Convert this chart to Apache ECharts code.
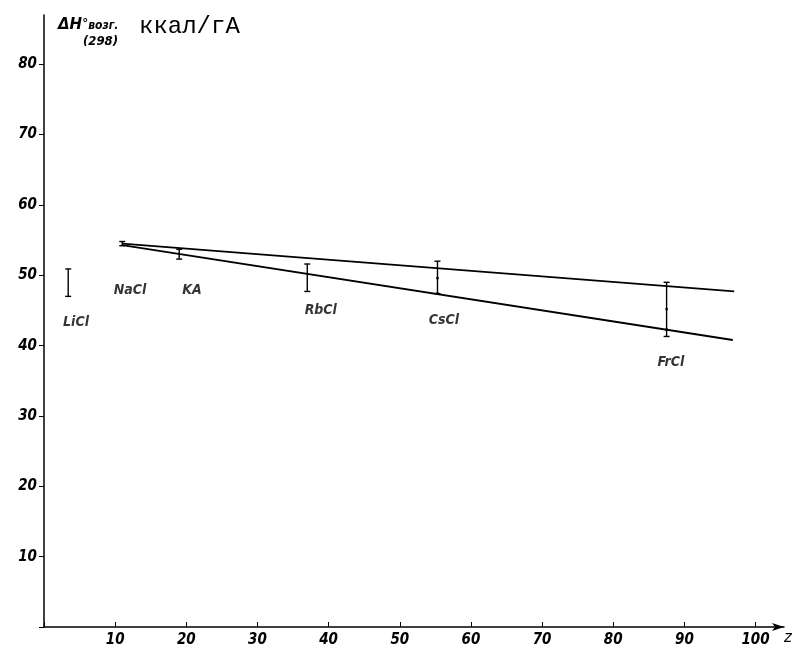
<!DOCTYPE html>
<html><head><meta charset="utf-8">
<script src="https://cdn.jsdelivr.net/npm/echarts@6/dist/echarts.min.js"></script>
<style>html,body{margin:0;padding:0;background:#fff}#c{width:796px;height:653px}</style>
</head><body><div id="c"></div>
<script>
// z values (atomic number) and sublimation enthalpy ranges, kcal/g-atom
const salts = ['LiCl', 'NaCl', 'KA', 'RbCl', 'CsCl', 'FrCl'];
const errZ    = [3.4, 11, 19, 37, 55.3, 87.5];
const errLow  = [47.0, 54.2, 52.3, 47.7, 47.4, 41.3];
const errHigh = [50.9, 54.8, 53.7, 51.6, 52.0, 49.0];
const upperLine = [[11, 54.5], [97, 47.7]];
const lowerLine = [[11, 54.3], [96.8, 40.8]];
const dotPoints = [[55.3, 47.4], [87.5, 45.2], [87.5, 42.3], [55.3, 49.6]];
const labelPos = [[4.5, 43.3], [12.1, 47.9], [20.8, 47.9], [38.9, 45.0], [56.2, 43.6], [88.1, 37.6]];
const xTicks = [0, 10, 20, 30, 40, 50, 60, 70, 80, 90, 100];
const yTicks = [0, 10, 20, 30, 40, 50, 60, 70, 80];

const tickFont = {color: '#000', fontFamily: 'DejaVu Sans Condensed, DejaVu Sans', fontStyle: 'italic', fontWeight: 'bold', fontSize: 15};

const chart = echarts.init(document.getElementById('c'));
chart.setOption({
  backgroundColor: '#fff',
  animation: false,
  grid: {left: 44, right: 12, top: 15, bottom: 26, containLabel: false},
  xAxis: {
    type: 'value', min: 0, max: 104, interval: 10,
    axisLine: {show: true, onZero: false, lineStyle: {color: '#000', width: 1.5}, symbol: ['none', 'arrow'], symbolSize: [6, 12]},
    axisTick: {show: true, inside: true, length: 5, lineStyle: {color: '#000'}},
    splitLine: {show: false},
    axisLabel: Object.assign({margin: 6, showMaxLabel: false,
      formatter: v => (xTicks.indexOf(v) >= 0 && v !== 0) ? String(v) : ''}, tickFont)
  },
  yAxis: {
    type: 'value', min: 0, max: 87, interval: 10,
    axisLine: {show: true, onZero: false, lineStyle: {color: '#000', width: 1.5}},
    axisTick: {show: true, length: 5, lineStyle: {color: '#000'}},
    splitLine: {show: false},
    axisLabel: Object.assign({margin: 7, showMaxLabel: false,
      formatter: v => (yTicks.indexOf(v) >= 0 && v !== 0) ? String(v) : ''}, tickFont)
  },
  series: [
    {type: 'line', data: upperLine, symbol: 'none', lineStyle: {color: '#000', width: 1.8}},
    {type: 'line', data: lowerLine, symbol: 'none', lineStyle: {color: '#000', width: 1.8}},
    {
      type: 'custom',
      data: errZ.map((z, i) => [z, errLow[i], errHigh[i]]),
      renderItem: function (params, api) {
        const lo = api.coord([api.value(0), api.value(1)]);
        const hi = api.coord([api.value(0), api.value(2)]);
        const w = 3;
        return {type: 'group', children: [
          {type: 'line', shape: {x1: lo[0], y1: lo[1], x2: hi[0], y2: hi[1]}, style: {stroke: '#000', lineWidth: 1.4}},
          {type: 'line', shape: {x1: lo[0] - w, y1: lo[1], x2: lo[0] + w, y2: lo[1]}, style: {stroke: '#000', lineWidth: 1.4}},
          {type: 'line', shape: {x1: hi[0] - w, y1: hi[1], x2: hi[0] + w, y2: hi[1]}, style: {stroke: '#000', lineWidth: 1.4}}
        ]};
      }
    },
    {type: 'scatter', data: dotPoints, symbolSize: 3, itemStyle: {color: '#000'}},
    {
      type: 'scatter', symbolSize: 0,
      data: labelPos.map((p, i) => ({value: p, name: salts[i]})),
      label: {show: true, position: 'inside', formatter: p => p.name, color: '#000',
        fontFamily: 'DejaVu Sans Condensed, DejaVu Sans', fontStyle: 'italic', fontWeight: 'bold', fontSize: 14}
    }
  ],
  graphic: [
    {type: 'text', left: 58, top: 18, style: {
      text: '{a|ΔH}{s|°}{b|возг.}',
      rich: {
        a: {fontFamily: 'DejaVu Sans', fontStyle: 'italic', fontWeight: 'bold', fontSize: 15, fill: '#000'},
        s: {fontFamily: 'DejaVu Sans', fontWeight: 'bold', fontSize: 12, fill: '#000', verticalAlign: 'top'},
        b: {fontFamily: 'DejaVu Sans Condensed, DejaVu Sans', fontStyle: 'italic', fontWeight: 'bold', fontSize: 12, fill: '#000'}
      }}},
    {type: 'text', left: 83, top: 35, style: {text: '(298)', fontFamily: 'DejaVu Sans Condensed, DejaVu Sans', fontStyle: 'italic', fontWeight: 'bold', fontSize: 13, fill: '#000'}},
    {type: 'text', left: 139, top: 15, style: {text: 'ккал/гА', fontFamily: 'Liberation Mono', fontSize: 24, fill: '#000'}},
    {type: 'text', left: 784, top: 631, style: {text: 'z', fontFamily: 'DejaVu Sans', fontStyle: 'italic', fontSize: 15, fill: '#000'}}
  ]
});
</script></body></html>
